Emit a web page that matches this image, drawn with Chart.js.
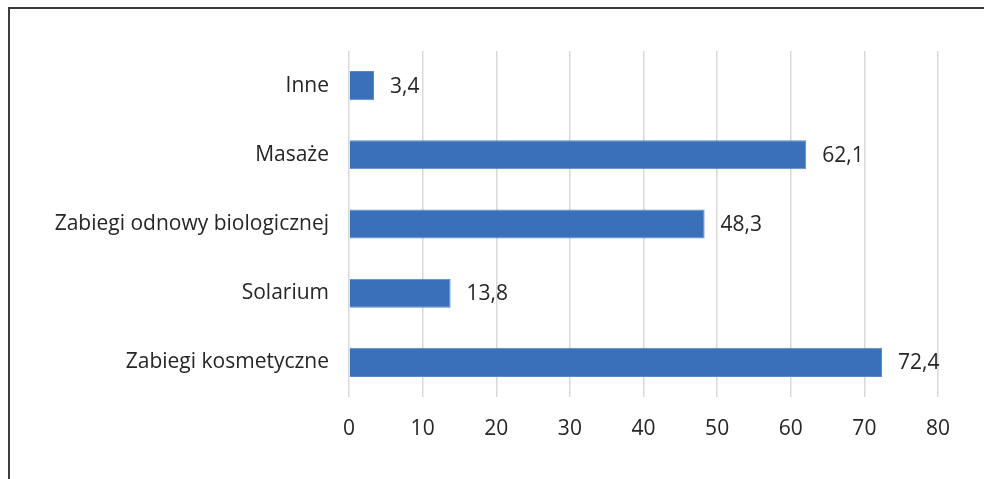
<!DOCTYPE html>
<html>
<head>
<meta charset="utf-8">
<script src="https://cdn.jsdelivr.net/npm/chart.js@4/dist/chart.umd.min.js"></script>
<style>
  html, body { margin: 0; padding: 0; background: #fff; }
  #wrap { position: relative; width: 984px; height: 479px; overflow: hidden; }
  #frame { position: absolute; left: 8px; top: 7px; right: -4px; bottom: -4px;
           border-top: 2px solid #3c3c3c; border-left: 2px solid #3c3c3c; pointer-events: none; }
  canvas { position: absolute; left: 0; top: 0; }
</style>
</head>
<body>
<div id="wrap">
  <canvas id="c" width="984" height="479"></canvas>
  <div id="frame"></div>
</div>
<script>
const categories = ['Inne', 'Masaże', 'Zabiegi odnowy biologicznej', 'Solarium', 'Zabiegi kosmetyczne'];
const values = [3.4, 62.1, 48.3, 13.8, 72.4];
const xTicks = [0, 10, 20, 30, 40, 50, 60, 70, 80];

const FONT = '"Open Sans", sans-serif';
const SIZE = 21;
const TEXT = '#262626';

// Writes each bar's value just past its end, with a decimal comma
const valueLabels = {
  id: 'valueLabels',
  afterDatasetsDraw(chart) {
    const ctx = chart.ctx;
    const meta = chart.getDatasetMeta(0);
    ctx.save();
    ctx.font = SIZE + 'px ' + FONT;
    ctx.fillStyle = TEXT;
    ctx.textAlign = 'left';
    ctx.textBaseline = 'middle';
    meta.data.forEach((bar, i) => {
      const txt = values[i].toFixed(1).replace('.', ',');
      ctx.fillText(txt, bar.x + 16, bar.y + 1);
    });
    ctx.restore();
  }
};

new Chart(document.getElementById('c'), {
  type: 'bar',
  data: {
    labels: categories,
    datasets: [{
      data: values,
      backgroundColor: '#3a70b9',
      borderColor: '#5b88c6',
      borderWidth: 1,
      categoryPercentage: 1,
      barPercentage: 0.42
    }]
  },
  options: {
    indexAxis: 'y',
    responsive: false,
    animation: false,
    layout: { padding: { left: 0, right: 46, top: 51, bottom: 0 } },
    plugins: { legend: { display: false }, tooltip: { enabled: false } },
    scales: {
      x: {
        min: 0, max: 80,
        afterBuildTicks(scale) { scale.ticks = xTicks.map(v => ({ value: v })); },
        afterFit(scale) { scale.height = 82; },
        grid: { color: '#d9d9d9', lineWidth: 1.5, drawTicks: false },
        border: { display: false },
        ticks: { padding: 19, color: TEXT, font: { family: FONT, size: SIZE } }
      },
      y: {
        afterFit(scale) { scale.width = 349; },
        grid: { display: false, drawTicks: false },
        border: { display: false },
        ticks: { padding: 20, color: TEXT, font: { family: FONT, size: SIZE } }
      }
    }
  },
  plugins: [valueLabels]
});
</script>
</body>
</html>
